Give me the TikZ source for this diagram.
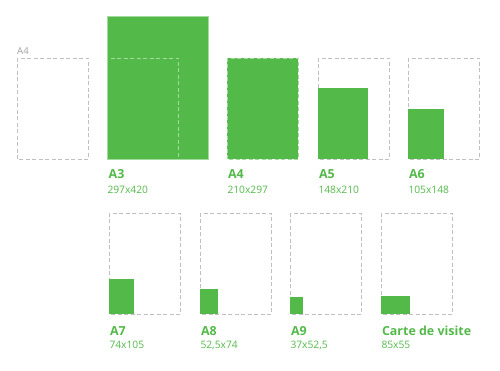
\documentclass[tikz,border=0pt]{standalone}
\usepackage{fontspec}
\setmainfont{Open Sans}
\usepackage{xcolor}
\definecolor{papergreen}{RGB}{83,185,73}
\definecolor{dashgray}{RGB}{192,192,192}
\definecolor{dashgreen}{RGB}{165,218,158}
\definecolor{labelgray}{RGB}{160,160,160}

\begin{document}
\begin{tikzpicture}[x=1bp,y=-1bp,
    sheet/.style={draw=dashgray,dash pattern=on 4bp off 2.5bp,line width=0.8bp},
    sheetin/.style={draw=dashgreen,dash pattern=on 4bp off 2.5bp,line width=0.8bp},
    fmt/.style={anchor=base west,inner sep=0pt,text=papergreen,font=\fontsize{12.5}{14}\selectfont\bfseries},
    dims/.style={anchor=base west,inner sep=0pt,text=papergreen,font=\fontsize{10.3}{12}\selectfont}]
        \def\s{0.339} % mm -> bp
        \def\bw{71.2} % largeur A4
        \def\bh{100.7} % hauteur A4

        \useasboundingbox (0,0) rectangle (500,370);

        %------------------
        % rangée du haut
        %------------------

        % A4 de référence
        \draw[sheet] (17.3,159) rectangle ++(\bw,-\bh);
        \node[anchor=base west,inner sep=0pt,text=labelgray,font=\fontsize{9.6}{11}\selectfont] (ref) at (17,54.9) {A4};

        % A3
        \fill[papergreen] (107.3,159) rectangle ++({297*\s},{-420*\s});
        \draw[dashgreen,line width=0.6bp] (107.3,159) rectangle ++({297*\s},{-420*\s});
        \draw[sheetin] (107.3,159) rectangle ++(\bw,-\bh);

        % A4
        \fill[papergreen] (227.3,159) rectangle ++({210*\s},{-297*\s});
        \draw[sheetin] (227.3,159) rectangle ++(\bw,-\bh);

        % A5, A6
        \foreach \x/\w/\h in {318.3/148/210, 408.3/105/148}{
          \draw[sheet] (\x,159) rectangle ++(\bw,-\bh);
          \fill[papergreen] (\x,159) rectangle ++({\w*\s},{-\h*\s});
        }

        \node[fmt] (a3) at (108.5,178.5) {A3};
        \node[dims] (d3) at (107.3,193.8) {297x420};
        \node[fmt] (a4) at (227.8,178.5) {A4};
        \node[dims] (d4) at (227.3,193.8) {210x297};
        \node[fmt] (a5) at (318.8,178.5) {A5};
        \node[dims] (d5) at (318.3,193.8) {148x210};
        \node[fmt] (a6) at (408.8,178.5) {A6};
        \node[dims] (d6) at (408.3,193.8) {105x148};

        %------------------
        % rangée du bas
        %------------------

        \foreach \x/\w/\h in {109.3/74/105, 200.3/52.5/74, 290.3/37/52.5, 381.3/85/55}{
          \draw[sheet] (\x,314.3) rectangle ++(\bw,-\bh);
          \fill[papergreen] (\x,314.3) rectangle ++({\w*\s},{-\h*\s});
        }

        \node[fmt] (a7) at (109.8,335.5) {A7};
        \node[dims] (d7) at (109.3,348.8) {74x105};
        \node[fmt] (a8) at (200.8,335.5) {A8};
        \node[dims] (d8) at (200.3,348.8) {52,5x74};
        \node[fmt] (a9) at (290.8,335.5) {A9};
        \node[dims] (d9) at (290.3,348.8) {37x52,5};
        \node[fmt] (cv) at (381.8,335.5) {Carte de visite};
        \node[dims] (dcv) at (381.3,348.8) {85x55};
      \end{tikzpicture}
\end{document}
